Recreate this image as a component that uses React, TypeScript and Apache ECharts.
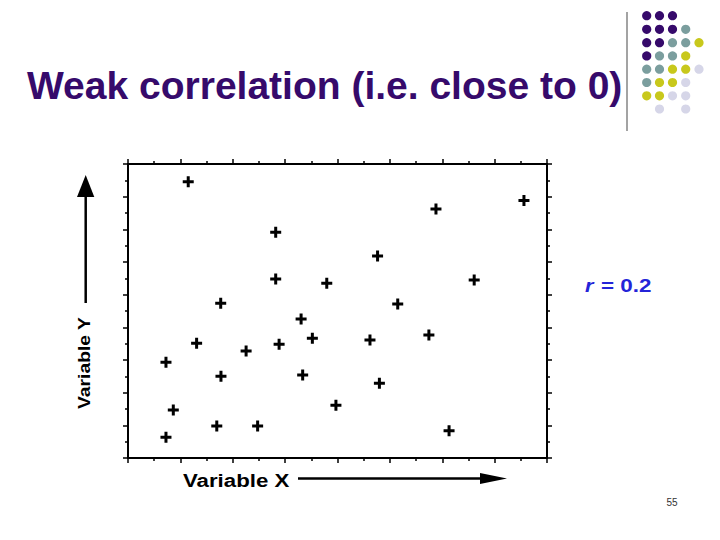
import React, { useEffect, useRef } from "react";
import * as echarts from "echarts";

const titleText = "Weak correlation (i.e. close to 0)";
const xLabel = "Variable X";
const yLabel = "Variable Y";
const rLabel = "r";
const rValue = "= 0.2";
const pageNumber = "55";

const xValues = [2.30, 5.64, 5.64, 3.54, 7.59, 9.53, 10.30, 11.76, 13.22, 15.12, 6.61, 1.45, 2.62, 4.51, 5.77, 7.04, 3.55, 6.67, 1.73, 3.39, 4.95, 1.45, 9.24, 11.49, 9.60, 7.94, 12.26];
const yValues = [16.92, 13.82, 10.96, 9.47, 10.70, 12.37, 9.43, 15.25, 10.90, 15.76, 8.51, 5.86, 7.02, 6.55, 6.96, 7.33, 5.00, 5.08, 2.94, 1.96, 1.96, 1.27, 7.23, 7.53, 4.57, 3.23, 1.67];

const xMin = 0;
const xMax = 16;
const yMin = 0;
const yMax = 18;

// decorative dot grid (row, col, colour index)
const dotColors = ["#360a6b", "#7b9e9e", "#c8c81c", "#d6d6e8"];
const dotRows = [
  [0, 0, 0],
  [0, 0, 0, 1],
  [0, 0, 1, 1, 2],
  [0, 1, 1, 2],
  [1, 1, 2, 2, 3],
  [1, 2, 2, 3],
  [2, 2, 3, 3],
  [-1, 3, -1, 3],
];

export default function App() {
  const ref = useRef<HTMLDivElement>(null);

  useEffect(() => {
    if (!ref.current) return;
    const chart = echarts.init(ref.current, null, { renderer: "svg" });

    const axisCommon = {
      type: "value" as const,
      axisLine: { show: true, onZero: false, lineStyle: { color: "#000", width: 2 } },
      axisTick: { show: true, inside: false, length: 5, lineStyle: { color: "#000", width: 1.5 } },
      minorTick: { show: true, splitNumber: 2, length: 3, lineStyle: { color: "#000", width: 1.5 } },
      axisLabel: { show: false },
      splitLine: { show: false },
      minorSplitLine: { show: false },
    };

    const dots: any[] = [];
    const colX = [646.7, 659.5, 672.5, 685.7, 699];
    const rowY = [15.7, 29.3, 42.7, 55.9, 69.2, 82.5, 95.8, 109];
    dotRows.forEach((row, ri) => {
      row.forEach((c, ci) => {
        if (c < 0) return;
        dots.push({
          type: "circle",
          shape: { cx: colX[ci], cy: rowY[ri], r: 4.6 },
          style: { fill: dotColors[c] },
          silent: true,
        });
      });
    });

    const plusPath = "path://M4,0H7V4H11V7H7V11H4V7H0V4H4Z";

    chart.setOption({
      animation: false,
      backgroundColor: "#fff",
      grid: { left: 128, top: 164, right: 173, bottom: 82, containLabel: false },
      xAxis: [
        { ...axisCommon, position: "bottom", min: xMin, max: xMax, interval: 2 },
        { ...axisCommon, position: "top", min: xMin, max: xMax, interval: 2 },
      ],
      yAxis: [
        { ...axisCommon, position: "left", min: yMin, max: yMax, interval: 2 },
        { ...axisCommon, position: "right", min: yMin, max: yMax, interval: 2 },
      ],
      series: [
        {
          type: "scatter",
          xAxisIndex: 0,
          yAxisIndex: 0,
          symbol: plusPath,
          symbolSize: 11,
          itemStyle: { color: "#000", opacity: 1 },
          data: xValues.map((x, i) => [x, yValues[i]]),
        },
      ],
      graphic: [
        {
          type: "text",
          x: 27,
          y: 85,
          style: {
            text: titleText,
            font: "bold 39px 'Liberation Sans', Arial, sans-serif",
            fill: "#360a6b",
            textAlign: "left",
            textVerticalAlign: "middle",
          },
        },
        {
          type: "line",
          shape: { x1: 627, y1: 12, x2: 627, y2: 131 },
          style: { stroke: "#a3a3a3", lineWidth: 2 },
        },
        ...dots,
        {
          type: "text",
          x: 585,
          y: 285,
          scaleX: 1.15,
          style: {
            text: rLabel,
            font: "italic bold 19px 'Liberation Sans', Arial, sans-serif",
            fill: "#2424d8",
            textAlign: "left",
            textVerticalAlign: "middle",
          },
        },
        {
          type: "text",
          x: 601,
          y: 285,
          scaleX: 1.18,
          style: {
            text: rValue,
            font: "bold 19px 'Liberation Sans', Arial, sans-serif",
            fill: "#2424d8",
            textAlign: "left",
            textVerticalAlign: "middle",
          },
        },
        {
          type: "text",
          x: 183,
          y: 481,
          scaleX: 1.27,
          style: {
            text: xLabel,
            font: "bold 17.5px 'Liberation Sans', Arial, sans-serif",
            fill: "#000",
            textAlign: "left",
            textVerticalAlign: "middle",
          },
        },
        {
          type: "line",
          shape: { x1: 298, y1: 478.5, x2: 484, y2: 478.5 },
          style: { stroke: "#000", lineWidth: 2.5 },
        },
        {
          type: "polygon",
          shape: { points: [[480, 473], [507, 478.5], [480, 484]] },
          style: { fill: "#000" },
        },
        {
          type: "text",
          x: 84,
          y: 363,
          rotation: Math.PI / 2,
          scaleX: 1.17,
          style: {
            text: yLabel,
            font: "bold 16.5px 'Liberation Sans', Arial, sans-serif",
            fill: "#000",
            textAlign: "center",
            textVerticalAlign: "middle",
          },
        },
        {
          type: "line",
          shape: { x1: 85.7, y1: 303, x2: 85.7, y2: 194 },
          style: { stroke: "#000", lineWidth: 2.5 },
        },
        {
          type: "polygon",
          shape: { points: [[77, 197], [85.7, 175], [94.3, 197]] },
          style: { fill: "#000" },
        },
        {
          type: "text",
          x: 672,
          y: 502,
          style: {
            text: pageNumber,
            font: "10px 'Liberation Sans', Arial, sans-serif",
            fill: "#333",
            textAlign: "center",
            textVerticalAlign: "middle",
          },
        },
      ],
    });

    return () => {
      chart.dispose();
    };
  }, []);

  return (
    <div
      ref={ref}
      style={{ position: "fixed", left: 0, top: 0, width: 720, height: 540 }}
    />
  );
}
